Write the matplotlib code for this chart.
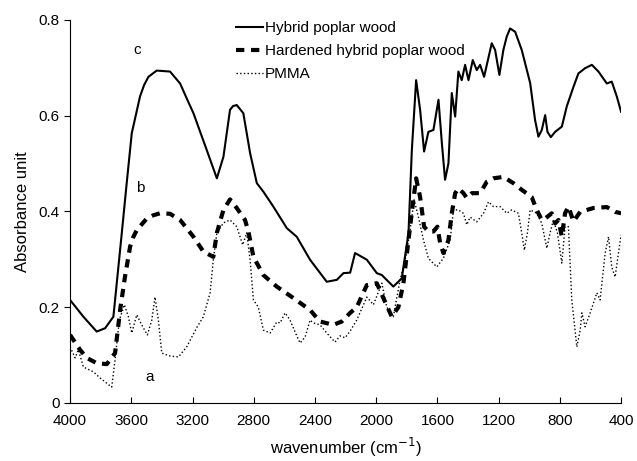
import numpy as np
import matplotlib.pyplot as plt

plt.rcParams['font.family'] = ['Liberation Sans', 'DejaVu Sans']

# c: hybrid poplar wood
wn_wood = [4000, 3913, 3826, 3771, 3717, 3662, 3630, 3597, 3543, 3516, 3488, 3434,
           3347, 3281, 3238, 3194, 3107, 3041, 2998, 2955, 2935, 2911, 2868, 2824,
           2780, 2737, 2672, 2584, 2519, 2432, 2323, 2257, 2214, 2170, 2138, 2061,
           1996, 1963, 1888, 1833, 1789, 1767, 1739, 1713, 1687, 1659, 1626, 1593,
           1571, 1550, 1528, 1506, 1484, 1463, 1441, 1419, 1397, 1369, 1343, 1321,
           1295, 1245, 1223, 1195, 1169, 1147, 1125, 1092, 1049, 994, 962, 940, 918,
           896, 881, 859, 831, 787, 755, 711, 679, 635, 591, 548, 493, 461, 428, 400]
abs_wood = [0.215, 0.18, 0.149, 0.156, 0.18, 0.355, 0.459, 0.563, 0.64, 0.664, 0.681,
            0.694, 0.692, 0.667, 0.636, 0.605, 0.528, 0.469, 0.514, 0.612, 0.62, 0.622,
            0.605, 0.522, 0.459, 0.441, 0.41, 0.365, 0.347, 0.299, 0.253, 0.257, 0.271,
            0.272, 0.313, 0.299, 0.271, 0.267, 0.243, 0.26, 0.354, 0.528, 0.674, 0.612,
            0.525, 0.566, 0.57, 0.633, 0.543, 0.466, 0.5, 0.647, 0.598, 0.692, 0.674,
            0.706, 0.674, 0.716, 0.695, 0.706, 0.681, 0.751, 0.737, 0.685, 0.737, 0.765,
            0.782, 0.775, 0.737, 0.668, 0.591, 0.556, 0.57, 0.601, 0.566, 0.555, 0.566,
            0.577, 0.619, 0.66, 0.688, 0.699, 0.706, 0.692, 0.667, 0.671, 0.64, 0.608]

# b: hardened hybrid poplar wood
wn_hard = [4000, 3935, 3891, 3826, 3760, 3706, 3673, 3641, 3608, 3586, 3564, 3499,
           3455, 3412, 3347, 3281, 3194, 3129, 3064, 3041, 2998, 2955, 2911, 2857,
           2835, 2802, 2737, 2650, 2541, 2432, 2367, 2280, 2225, 2170, 2127, 2061,
           1996, 1953, 1898, 1855, 1822, 1789, 1757, 1739, 1713, 1687, 1659, 1626,
           1600, 1582, 1561, 1528, 1506, 1484, 1463, 1430, 1408, 1375, 1321, 1277,
           1234, 1169, 1104, 1049, 984, 951, 918, 896, 853, 831, 809, 787, 766, 744,
           711, 667, 580, 493, 439, 400]
abs_hard = [0.142, 0.111, 0.094, 0.083, 0.081, 0.104, 0.194, 0.264, 0.326, 0.347, 0.361,
            0.385, 0.392, 0.396, 0.395, 0.382, 0.347, 0.316, 0.305, 0.355, 0.403, 0.425,
            0.407, 0.382, 0.358, 0.305, 0.267, 0.243, 0.219, 0.194, 0.17, 0.163, 0.17,
            0.188, 0.2, 0.246, 0.25, 0.219, 0.18, 0.2, 0.25, 0.34, 0.424, 0.469, 0.43,
            0.368, 0.358, 0.358, 0.368, 0.334, 0.313, 0.34, 0.396, 0.438, 0.448, 0.438,
            0.428, 0.438, 0.438, 0.462, 0.469, 0.472, 0.459, 0.445, 0.43, 0.403, 0.382,
            0.385, 0.396, 0.375, 0.382, 0.347, 0.396, 0.41, 0.379, 0.399, 0.407, 0.409,
            0.399, 0.396]

# a: PMMA
wn_pmma = [4000, 3967, 3946, 3913, 3848, 3804, 3728, 3706, 3678, 3645, 3619, 3597,
           3564, 3532, 3495, 3466, 3445, 3423, 3401, 3347, 3292, 3238, 3173, 3129,
           3085, 3064, 3041, 2998, 2955, 2911, 2872, 2846, 2824, 2802, 2770, 2737,
           2693, 2650, 2628, 2595, 2563, 2530, 2497, 2464, 2432, 2410, 2367, 2323,
           2269, 2236, 2203, 2170, 2127, 2061, 2018, 1963, 1931, 1888, 1844, 1800,
           1767, 1752, 1724, 1691, 1659, 1604, 1561, 1517, 1495, 1463, 1430, 1408,
           1386, 1343, 1299, 1266, 1234, 1190, 1147, 1114, 1071, 1049, 1032, 1012,
           994, 951, 918, 885, 864, 842, 816, 787, 766, 744, 722, 689, 667, 656,
           635, 602, 558, 537, 504, 482, 461, 439, 417, 400]
abs_pmma = [0.117, 0.094, 0.111, 0.075, 0.065, 0.052, 0.033, 0.09, 0.173, 0.205, 0.18,
            0.146, 0.184, 0.163, 0.142, 0.173, 0.221, 0.173, 0.104, 0.098, 0.096, 0.117,
            0.157, 0.18, 0.23, 0.299, 0.355, 0.376, 0.382, 0.368, 0.33, 0.355, 0.299,
            0.215, 0.2, 0.152, 0.146, 0.169, 0.167, 0.188, 0.173, 0.148, 0.125, 0.138,
            0.173, 0.167, 0.163, 0.146, 0.127, 0.14, 0.136, 0.15, 0.173, 0.221, 0.205,
            0.25, 0.2, 0.18, 0.257, 0.313, 0.388, 0.424, 0.388, 0.34, 0.302, 0.284,
            0.302, 0.34, 0.403, 0.403, 0.396, 0.372, 0.388, 0.378, 0.396, 0.42, 0.41,
            0.41, 0.396, 0.403, 0.396, 0.355, 0.319, 0.355, 0.403, 0.396, 0.375, 0.323,
            0.355, 0.382, 0.355, 0.292, 0.368, 0.368, 0.215, 0.117, 0.152, 0.188, 0.159,
            0.188, 0.23, 0.215, 0.313, 0.347, 0.284, 0.263, 0.313, 0.351]

fig, ax = plt.subplots(figsize=(6.37, 4.61), dpi=100)
fig.subplots_adjust(left=0.11, right=0.975, bottom=0.126, top=0.957)

ax.plot(wn_wood, abs_wood, color='black', lw=1.5, label='Hybrid poplar wood')
ax.plot(wn_hard, abs_hard, color='black', lw=3, dashes=(2, 1.6),
        label='Hardened hybrid poplar wood')
ax.plot(wn_pmma, abs_pmma, color='black', lw=1, ls=':', label='PMMA')

ax.text(3562, 0.737, 'c', fontsize=11, ha='center', va='center')
ax.text(3543, 0.449, 'b', fontsize=11, ha='center', va='center')
ax.text(3477, 0.054, 'a', fontsize=11, ha='center', va='center')

ax.set_xlim(4000, 400)
ax.set_ylim(0, 0.8)
ax.set_xticks(np.arange(4000, 399, -400))
ax.set_yticks([0, 0.2, 0.4, 0.6, 0.8])
ax.set_yticklabels(['0', '0.2', '0.4', '0.6', '0.8'])
ax.spines['top'].set_visible(False)
ax.spines['right'].set_visible(False)
ax.tick_params(axis='x', direction='in', length=4, labelsize=11, pad=8)
ax.tick_params(axis='y', direction='out', length=4, labelsize=11)
ax.set_xlabel('wavenumber (cm$^{-1}$)', fontsize=12, labelpad=6)
ax.set_ylabel('Absorbance unit', fontsize=12, labelpad=6)

ax.legend(loc='upper left', bbox_to_anchor=(0.29, 1.013), frameon=False,
          fontsize=11, handlelength=1.8, handletextpad=0.1, labelspacing=0.6,
          borderaxespad=0)

fig.savefig('out.png', dpi=100)
